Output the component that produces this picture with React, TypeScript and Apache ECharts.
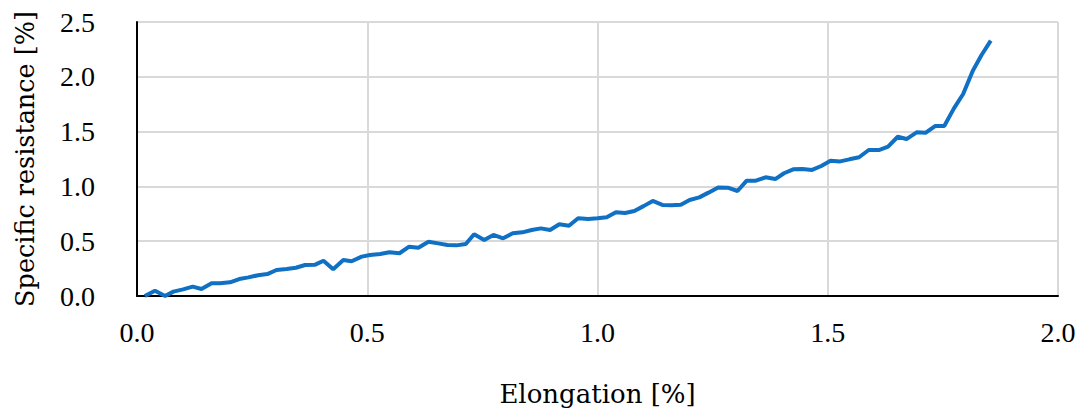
import React, { useEffect, useRef } from "react";
import * as echarts from "echarts";

const elongation = [
  0.017, 0.039, 0.061, 0.079, 0.1, 0.121, 0.14, 0.162, 0.18, 0.202, 0.222, 0.242, 0.263, 0.283,
  0.303, 0.325, 0.345, 0.365, 0.387, 0.405, 0.426, 0.448, 0.466, 0.488, 0.506, 0.528, 0.548,
  0.57, 0.591, 0.611, 0.633, 0.654, 0.674, 0.694, 0.714, 0.732, 0.754, 0.774, 0.795, 0.816,
  0.837, 0.857, 0.877, 0.897, 0.917, 0.938, 0.958, 0.98, 1.0, 1.02, 1.04, 1.06, 1.08, 1.1,
  1.12, 1.142, 1.161, 1.181, 1.2, 1.221, 1.241, 1.262, 1.283, 1.304, 1.324, 1.344, 1.365,
  1.386, 1.405, 1.425, 1.445, 1.466, 1.486, 1.506, 1.527, 1.547, 1.568, 1.589, 1.611, 1.631,
  1.652, 1.671, 1.693, 1.713, 1.733, 1.753, 1.774, 1.794, 1.815, 1.834, 1.854,
];
const resistance = [
  0.0, 0.048, 0.0, 0.04, 0.06, 0.085, 0.064, 0.116, 0.116, 0.125, 0.155, 0.17, 0.19, 0.2,
  0.237, 0.246, 0.258, 0.283, 0.286, 0.322, 0.244, 0.328, 0.317, 0.359, 0.374, 0.383, 0.399,
  0.39, 0.45, 0.441, 0.495, 0.48, 0.465, 0.462, 0.474, 0.563, 0.511, 0.557, 0.526, 0.572,
  0.581, 0.602, 0.617, 0.602, 0.654, 0.641, 0.709, 0.703, 0.709, 0.718, 0.764, 0.757, 0.776,
  0.82, 0.867, 0.83, 0.827, 0.833, 0.876, 0.9, 0.943, 0.99, 0.988, 0.958, 1.052, 1.052, 1.083,
  1.067, 1.12, 1.156, 1.159, 1.15, 1.186, 1.234, 1.228, 1.247, 1.266, 1.332, 1.332, 1.362,
  1.453, 1.432, 1.493, 1.49, 1.551, 1.551, 1.712, 1.843, 2.056, 2.199, 2.33,
];

const xTitle = "Elongation [%]";
const yTitle = "Specific resistance [%]";

const TITLE_FONT = "DejaVu Serif";
const TICK_FONT = "Liberation Serif";

export default function App() {
  const ref = useRef<HTMLDivElement>(null);
  useEffect(() => {
    if (!ref.current) return;
    const chart = echarts.init(ref.current, null, { renderer: "svg" });
    chart.setOption({
      animation: false,
      backgroundColor: "#ffffff",
      grid: { left: 137, right: 22, top: 22, bottom: 118, containLabel: false },
      xAxis: {
        type: "value",
        min: 0,
        max: 2,
        interval: 0.5,
        name: xTitle,
        nameLocation: "middle",
        nameGap: 85,
        nameTextStyle: { fontFamily: TITLE_FONT, fontSize: 26, color: "#000" },
        axisLine: { show: true, lineStyle: { color: "#000", width: 2 } },
        axisTick: { show: false },
        splitLine: { show: true, lineStyle: { color: "#d9d9d9", width: 2 } },
        axisLabel: {
          fontFamily: TICK_FONT,
          fontSize: 28,
          color: "#000",
          margin: 22,
          formatter: (v: number) => v.toFixed(1),
        },
      },
      yAxis: {
        type: "value",
        min: 0,
        max: 2.5,
        interval: 0.5,
        name: yTitle,
        nameLocation: "middle",
        nameGap: 99,
        nameTextStyle: { fontFamily: TITLE_FONT, fontSize: 25.5, color: "#000" },
        axisLine: { show: true, lineStyle: { color: "#000", width: 2 } },
        axisTick: { show: false },
        splitLine: { show: true, lineStyle: { color: "#d9d9d9", width: 2 } },
        axisLabel: {
          fontFamily: TICK_FONT,
          fontSize: 28,
          color: "#000",
          margin: 42,
          formatter: (v: number) => v.toFixed(1),
        },
      },
      series: [
        {
          type: "line",
          data: elongation.map((x, i) => [x, resistance[i]]),
          showSymbol: false,
          symbol: "none",
          lineStyle: { color: "#0F70C4", width: 4 },
          z: 5,
        },
      ],
    });
    return () => chart.dispose();
  }, []);
  return (
    <div
      ref={ref}
      style={{ position: "fixed", left: 0, top: 0, width: 1080, height: 414 }}
    />
  );
}
